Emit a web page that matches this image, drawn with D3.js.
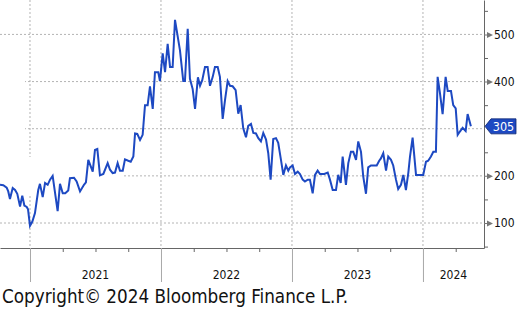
<!DOCTYPE html>
<html>
<head>
<meta charset="utf-8">
<script src="https://cdn.jsdelivr.net/npm/d3@7"></script>
<style>
html, body { margin: 0; padding: 0; background: #fff; }
svg { display: block; font-family: "DejaVu Sans Condensed", "DejaVu Sans", sans-serif; }
</style>
</head>
<body>
<svg id="chart" width="518" height="309"></svg>
<script>
// readings, dates as decimal years
var dates = [
    2020.771,2020.796,2020.822,2020.834,2020.847,2020.868,2020.886,2020.903,2020.924,2020.941,2020.957,2020.975,2020.985,
    2021.000,2021.018,2021.038,2021.063,2021.076,2021.097,2021.115,2021.135,2021.153,2021.173,2021.211,2021.229,2021.250,
    2021.269,2021.292,2021.305,2021.336,2021.356,2021.382,2021.412,2021.427,2021.445,2021.479,2021.496,2021.514,2021.534,
    2021.560,2021.593,2021.611,2021.631,2021.649,2021.669,2021.687,2021.708,2021.725,2021.750,2021.769,2021.789,2021.802,
    2021.819,2021.840,2021.860,2021.878,2021.898,2021.916,2021.937,2021.954,2021.979,2021.992,2022.013,2022.031,2022.051,
    2022.069,2022.089,2022.107,
    2022.145,2022.170,2022.183,2022.204,2022.221,2022.242,2022.260,2022.282,2022.298,2022.315,2022.336,2022.356,2022.374,
    2022.395,2022.412,2022.433,2022.450,2022.471,2022.489,2022.509,2022.527,2022.547,2022.570,2022.590,2022.608,2022.628,
    2022.649,2022.666,2022.687,2022.705,2022.725,2022.743,2022.763,2022.781,2022.802,2022.819,2022.837,2022.857,2022.878,
    2022.895,2022.916,2022.934,2022.954,2022.972,2022.985,
    2023.005,2023.023,2023.044,2023.061,2023.082,2023.099,2023.120,2023.137,2023.158,2023.176,2023.196,2023.214,2023.247,
    2023.273,2023.290,2023.311,2023.336,2023.353,2023.372,2023.387,2023.412,2023.430,2023.450,2023.468,2023.489,2023.506,
    2023.527,2023.544,2023.565,2023.582,2023.603,2023.647,2023.666,2023.679,2023.697,2023.718,2023.735,2023.756,2023.773,
    2023.794,2023.811,2023.832,2023.850,2023.870,2023.888,2023.901,2023.921,2023.947,2024.002,2024.023,2024.040,2024.061,
    2024.079,2024.099,2024.112,2024.130,2024.150,2024.173,2024.189,2024.214,2024.231,2024.250,2024.265,2024.282,2024.303,
    2024.326,2024.341,2024.366
];
var values = [
    181,180,175,167,151,174,170,162,135,158,137,134,129,
    94,103,121,170,183,155,185,181,192,200,125,183,163,
    163,169,195,196,188,167,181,186,234,209,255,257,201,
    204,227,213,206,207,227,211,211,235,232,230,241,290,
    289,276,287,350,350,390,342,420,420,401,460,420,480,
    431,431,531,
    466,401,401,512,406,384,342,409,391,403,431,431,391,
    410,431,431,410,321,361,401,391,390,382,332,350,301,
    282,306,310,291,290,280,273,291,277,248,192,278,280,
    270,234,202,222,211,218,
    222,204,209,204,192,188,192,192,163,202,211,204,204,
    207,192,170,170,202,185,241,181,227,251,251,234,273,
    251,199,162,218,222,222,232,237,248,211,241,234,222,
    192,172,181,202,170,206,241,281,202,202,230,232,241,
    251,251,410,375,331,410,380,380,350,343,287,294,302,
    295,331,305
];
var yTicks = [100, 200, 300, 400, 500];
var yMinor = [50, 150, 250, 350, 450, 550];
var years = [2021, 2022, 2023, 2024];
var lastValue = 305;
var copyright = "Copyright\u00a9 2024 Bloomberg Finance L.P.";

var blue = "#1d49c2";
var svg = d3.select("#chart");
var plotW = 484, plotH = 248;

var x = d3.scaleLinear().domain([2020.771, 2024.466]).range([0, plotW]);
var y = d3.scaleLinear().domain([47, 573]).range([plotH, 0]);

// grid
svg.append("g").selectAll("line").data(yTicks).join("line")
    .attr("x1", 0).attr("x2", plotW)
    .attr("y1", d => y(d)).attr("y2", d => y(d))
    .attr("stroke", "#b4b4b4").attr("stroke-dasharray", "2,2");
svg.append("g").selectAll("line").data(years).join("line")
    .attr("x1", d => x(d)).attr("x2", d => x(d))
    .attr("y1", 0).attr("y2", plotH)
    .attr("stroke", "#b4b4b4").attr("stroke-dasharray", "2,2");

// blank patches where the original hides the grid: [t0, t1, v0, v1]
var gridGaps = [[2020.771, 2021.71, 160, 240], [2020.771, 2020.962, 295, 408]];
svg.append("g").selectAll("rect").data(gridGaps).join("rect")
    .attr("x", d => x(d[0])).attr("width", d => x(d[1]) - x(d[0]))
    .attr("y", d => y(d[3])).attr("height", d => y(d[2]) - y(d[3]))
    .attr("fill", "#fff");

// line
var pts = dates.map((d, i) => [d, values[i]]);
svg.append("path")
    .datum(pts)
    .attr("fill", "none")
    .attr("stroke", blue)
    .attr("stroke-width", 2)
    .attr("d", d3.line().x(d => x(d[0])).y(d => y(d[1])));

// x axis
var quarters = years.flatMap(yr => [yr + 0.25, yr + 0.5, yr + 0.75]).filter(q => q < x.domain()[1]);
var xq = svg.append("g").attr("transform", "translate(0," + plotH + ")")
    .call(d3.axisBottom(x).tickValues(quarters).tickSize(4).tickSizeOuter(0).tickFormat(""));
xq.select(".domain").attr("stroke", "#666");
xq.selectAll(".tick line").attr("stroke", "#666");
var xy = svg.append("g").attr("transform", "translate(0," + plotH + ")")
    .call(d3.axisBottom(x).tickValues(years).tickSize(34).tickSizeOuter(0).tickFormat(""));
xy.select(".domain").remove();
xy.selectAll(".tick line").attr("stroke", "#a8a8a8");

svg.append("g").selectAll("text").data(years).join("text")
    .attr("x", d => (x(d) + x(Math.min(d + 1, x.domain()[1]))) / 2)
    .attr("y", 279)
    .attr("text-anchor", "middle")
    .attr("font-size", 12)
    .attr("fill", "#111")
    .text(d => d);

// y axis (right)
var ly = y(lastValue);
var ym = svg.append("g").attr("transform", "translate(" + plotW + ",0)")
    .call(d3.axisRight(y).tickValues(yMinor).tickSize(4).tickSizeOuter(0).tickFormat(""));
ym.select(".domain").attr("stroke", "#666");
ym.selectAll(".tick line").attr("stroke", "#666");

// labels hidden under the last-value tag are left out, as in the original
var yM = svg.append("g").attr("transform", "translate(" + plotW + ",0)")
    .call(d3.axisRight(y).tickValues(yTicks.filter(v => Math.abs(y(v) - ly) > 12)).tickSize(0).tickPadding(10));
yM.select(".domain").remove();
yM.selectAll(".tick text").attr("font-size", 12).attr("fill", "#111")
    .attr("font-family", "'DejaVu Sans Condensed', 'DejaVu Sans', sans-serif");
yM.selectAll(".tick").append("path")
    .attr("d", "M0,-0.5H3L3,-3L9,0L3,3L3,0.5H0Z")
    .attr("fill", "#777");

// last value tag
svg.append("path")
    .attr("d", "M" + (plotW + 1) + "," + ly + "L" + (plotW + 7) + "," + (ly - 7.5) +
        "H516V" + (ly + 7.5) + "H" + (plotW + 7) + "Z")
    .attr("fill", blue)
    .attr("stroke", "#0c2470")
    .attr("stroke-width", 0.8);
svg.append("text")
    .attr("x", 503.5).attr("y", ly)
    .attr("dy", "0.36em")
    .attr("text-anchor", "middle")
    .attr("font-size", 12.5)
    .attr("fill", "#fff")
    .text(lastValue);

svg.append("text")
    .attr("x", 2).attr("y", 303)
    .attr("font-size", 18.7)
    .attr("fill", "#111")
    .text(copyright);
</script>
</body>
</html>
